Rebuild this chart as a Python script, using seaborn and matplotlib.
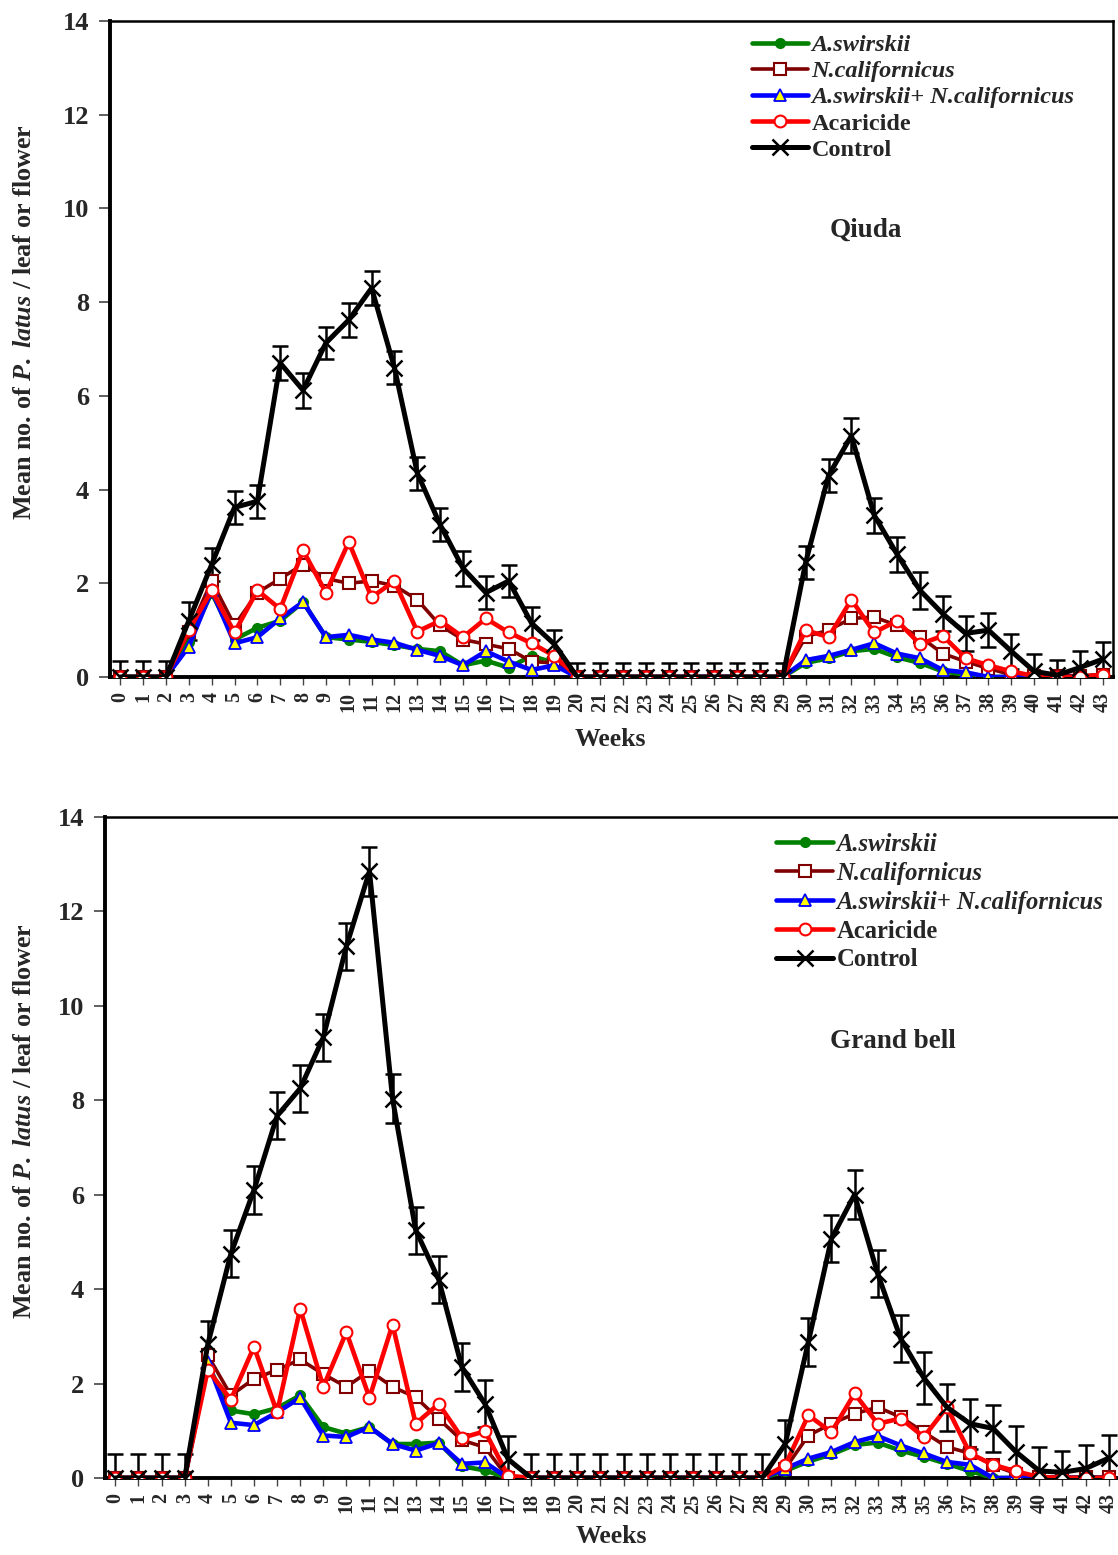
import numpy as np
import pandas as pd
import seaborn as sns
import matplotlib
matplotlib.use("Agg")
import matplotlib.pyplot as plt

weeks = list(range(44))
week_labels = [str(w) for w in weeks]
z8 = [0] * 8

# ---- Qiuda (top panel) ----
q_swirskii = [0, 0, 0, 0.75, 1.8, 0.8, 1.05, 1.2, 1.6, 0.85, 0.8, 0.75, 0.68, 0.6, 0.55, 0.25, 0.35, 0.2, 0.45, 0.3, 0] + z8 + \
             [0, 0.3, 0.4, 0.55, 0.6, 0.42, 0.3, 0.12, 0.05, 0, 0, 0, 0, 0, 0]
q_californicus = [0, 0, 0, 0.95, 2.05, 1.1, 1.8, 2.1, 2.4, 2.1, 2.0, 2.05, 1.95, 1.65, 1.1, 0.8, 0.7, 0.6, 0.33, 0.3, 0] + z8 + \
                 [0, 0.86, 1.0, 1.25, 1.28, 1.1, 0.86, 0.5, 0.33, 0.18, 0.05, 0.03, 0.03, 0.03, 0.05]
q_combined = [0, 0, 0, 0.65, 1.85, 0.72, 0.85, 1.25, 1.6, 0.85, 0.9, 0.8, 0.73, 0.58, 0.45, 0.25, 0.55, 0.33, 0.15, 0.25, 0] + z8 + \
             [0, 0.36, 0.45, 0.58, 0.72, 0.5, 0.4, 0.15, 0.1, 0, 0, 0, 0, 0, 0]
q_acaricide = [0, 0, 0, 1.0, 1.85, 0.95, 1.85, 1.45, 2.7, 1.8, 2.88, 1.7, 2.05, 0.97, 1.2, 0.85, 1.25, 0.95, 0.72, 0.45, 0] + z8 + \
              [0, 1.0, 0.85, 1.65, 0.95, 1.2, 0.7, 0.88, 0.4, 0.25, 0.12, 0.02, 0, 0, 0.05]
q_control = [0, 0, 0, 1.2, 2.4, 3.62, 3.75, 6.7, 6.12, 7.13, 7.62, 8.3, 6.6, 4.35, 3.25, 2.32, 1.8, 2.05, 1.15, 0.7, 0] + z8 + \
            [0, 2.45, 4.3, 5.15, 3.45, 2.62, 1.85, 1.35, 0.93, 1.0, 0.55, 0.12, 0.04, 0.2, 0.38]
q_control_err = [0.35, 0.35, 0.35, 0.4, 0.35, 0.35, 0.35, 0.37, 0.37, 0.35, 0.37, 0.37, 0.35, 0.35, 0.35, 0.37, 0.35,
                 0.35, 0.35, 0.3, 0.3, 0.3, 0.3, 0.3, 0.3, 0.3, 0.3, 0.3, 0.3, 0.3, 0.35, 0.35, 0.37, 0.38, 0.37,
                 0.4, 0.37, 0.37, 0.37, 0.37, 0.37, 0.33, 0.35, 0.37]

# ---- Grand bell (bottom panel) ----
z10 = [0] * 10
g_swirskii = [0, 0, 0, 0, 2.4, 1.43, 1.35, 1.48, 1.75, 1.08, 0.94, 1.08, 0.72, 0.72, 0.75, 0.25, 0.16, 0, 0] + z10 + \
             [0.15, 0.35, 0.5, 0.7, 0.75, 0.58, 0.45, 0.3, 0.15, 0, 0, 0, 0, 0, 0]
g_californicus = [0, 0, 0, 0, 2.6, 1.75, 2.1, 2.29, 2.51, 2.2, 1.93, 2.27, 1.93, 1.71, 1.25, 0.8, 0.65, 0, 0] + z10 + \
                 [0.2, 0.9, 1.15, 1.36, 1.5, 1.29, 0.97, 0.66, 0.52, 0.27, 0.09, 0.02, 0.02, 0.02, 0.02]
g_combined = [0, 0, 0, 0, 2.45, 1.17, 1.12, 1.39, 1.7, 0.9, 0.87, 1.08, 0.72, 0.58, 0.74, 0.3, 0.33, 0, 0] + z10 + \
             [0.2, 0.41, 0.55, 0.76, 0.89, 0.69, 0.52, 0.34, 0.28, 0, 0, 0, 0, 0, 0]
g_acaricide = [0, 0, 0, 0, 2.29, 1.66, 2.78, 1.39, 3.59, 1.93, 3.09, 1.7, 3.25, 1.15, 1.57, 0.85, 0.99, 0.05, 0] + z10 + \
              [0.27, 1.33, 0.97, 1.79, 1.15, 1.26, 0.87, 1.5, 0.52, 0.28, 0.14, 0.02, 0, 0, 0]
g_control = [0, 0, 0, 0, 2.83, 4.75, 6.1, 7.67, 8.25, 9.33, 11.26, 12.85, 8.03, 5.25, 4.2, 2.35, 1.57, 0.4, 0] + z10 + \
            [0.72, 2.88, 5.07, 6.0, 4.33, 2.95, 2.12, 1.5, 1.15, 1.05, 0.55, 0.15, 0.12, 0.2, 0.42]
g_control_err = [0.5, 0.5, 0.5, 0.5, 0.5, 0.5, 0.5, 0.5, 0.5, 0.5, 0.5, 0.52, 0.52, 0.5, 0.5, 0.5, 0.5, 0.5, 0.5,
                 0.5, 0.5, 0.5, 0.5, 0.5, 0.5, 0.5, 0.5, 0.5, 0.5, 0.5, 0.5, 0.5, 0.52, 0.5, 0.5, 0.55, 0.5, 0.53,
                 0.5, 0.55, 0.5, 0.45, 0.5, 0.5]

series_names = ["A.swirskii", "N.californicus", "A.swirskii+ N.californicus", "Acaricide", "Control"]
italic_flags = [True, True, True, False, False]

sns.set_style("ticks")
plt.rcParams["font.family"] = ["Liberation Serif", "DejaVu Serif"]
plt.rcParams["font.weight"] = "bold"
plt.rcParams["axes.labelweight"] = "bold"
plt.rcParams["mathtext.fontset"] = "custom"
plt.rcParams["mathtext.it"] = "Liberation Serif:italic:bold"
plt.rcParams["mathtext.rm"] = "Liberation Serif:bold"
plt.rcParams["mathtext.bf"] = "Liberation Serif:bold"

fig = plt.figure(figsize=(11.18, 15.55), dpi=100)
ax1 = fig.add_axes([110 / 1118, 1 - 677 / 1555, (1113 - 110) / 1118, 656 / 1555])
ax2 = fig.add_axes([105 / 1118, 1 - 1478 / 1555, (1119 - 105) / 1118, 661 / 1555])


def draw_panel(ax, sw, nc, comb, aca, ctrl, ctrl_err, title, title_xy, leg_anchor, leg_fs, leg_spacing):
    ax.errorbar(weeks, ctrl, yerr=ctrl_err, fmt="none", ecolor="black", elinewidth=1.8,
                capsize=5.5, capthick=1.8, zorder=2)
    sns.lineplot(x=weeks, y=sw, ax=ax, color="#008000", linewidth=3.3, marker="o",
                 markersize=7, markerfacecolor="#008000", markeredgecolor="#008000",
                 markeredgewidth=1, label=series_names[0], zorder=3)
    sns.lineplot(x=weeks, y=nc, ax=ax, color="#800000", linewidth=2.6, marker="s",
                 markersize=8, markerfacecolor="white", markeredgecolor="#800000",
                 markeredgewidth=1.5, label=series_names[1], zorder=3)
    sns.lineplot(x=weeks, y=comb, ax=ax, color="#0000FF", linewidth=3.3, marker="^",
                 markersize=8, markerfacecolor="#FFFF00", markeredgecolor="#0000FF",
                 markeredgewidth=1.3, label=series_names[2], zorder=4)
    sns.lineplot(x=weeks, y=aca, ax=ax, color="#FF0000", linewidth=3.3, marker="o",
                 markersize=8.5, markerfacecolor="white", markeredgecolor="#FF0000",
                 markeredgewidth=1.5, label=series_names[3], zorder=5)
    sns.lineplot(x=weeks, y=ctrl, ax=ax, color="black", linewidth=3.6, marker="x",
                 markersize=11, markerfacecolor="black", markeredgecolor="black",
                 markeredgewidth=1.8, label=series_names[4], zorder=6)

    ax.set_xlim(-0.45, 43.45)
    ax.set_ylim(0, 14)
    ax.set_yticks(np.arange(0, 15, 2))
    ax.set_yticklabels([str(v) for v in range(0, 15, 2)], fontsize=19, fontweight="bold")
    ax.set_xticks(weeks)
    ax.set_xticklabels(week_labels, rotation=90, fontsize=14.5, fontweight="bold")
    ax.tick_params(axis="y", direction="out", length=8, width=1.2, pad=7, color="#444444")
    ax.tick_params(axis="x", direction="out", length=6, width=1.0, pad=5, color="#444444")

    for side in ["left", "bottom"]:
        ax.spines[side].set_linewidth(2.8)
        ax.spines[side].set_color("black")
    for side in ["top", "right"]:
        ax.spines[side].set_visible(True)
        ax.spines[side].set_linewidth(1.8)
        ax.spines[side].set_color("black")

    ax.set_xlabel("Weeks", fontsize=18.5, fontweight="bold")
    ax.set_ylabel(r"Mean no. of $\it{P.}$ $\it{latus}$ / leaf or flower", fontsize=18.8, fontweight="bold")

    leg = ax.legend(loc="upper left", bbox_to_anchor=leg_anchor, frameon=False, fontsize=leg_fs,
                    handlelength=2.3, handletextpad=0.15, labelspacing=leg_spacing,
                    borderpad=0, borderaxespad=0)
    for t, it in zip(leg.get_texts(), italic_flags):
        t.set_fontweight("bold")
        if it:
            t.set_fontstyle("italic")

    ax.text(title_xy[0], title_xy[1], title, transform=ax.transAxes, ha="center", va="center",
            fontsize=19.5, fontweight="bold")


draw_panel(ax1, q_swirskii, q_californicus, q_combined, q_acaricide, q_control, q_control_err,
           "Qiuda", (0.754, 0.681), (0.640, 0.980), 17.5, 0.17)
draw_panel(ax2, g_swirskii, g_californicus, g_combined, g_acaricide, g_control, g_control_err,
           "Grand bell", (0.777, 0.66), (0.662, 0.976), 17.7, 0.24)

ax1.xaxis.set_label_coords((610 - 110) / 1003, (677 - 728) / 656)
ax1.yaxis.set_label_coords((36 - 110) / 1003, 0.541)
ax2.xaxis.set_label_coords((611 - 105) / 1014, (1478 - 1525) / 661)
ax2.yaxis.set_label_coords((36 - 105) / 1014, 0.54)

fig.savefig("out.png", dpi=100)
